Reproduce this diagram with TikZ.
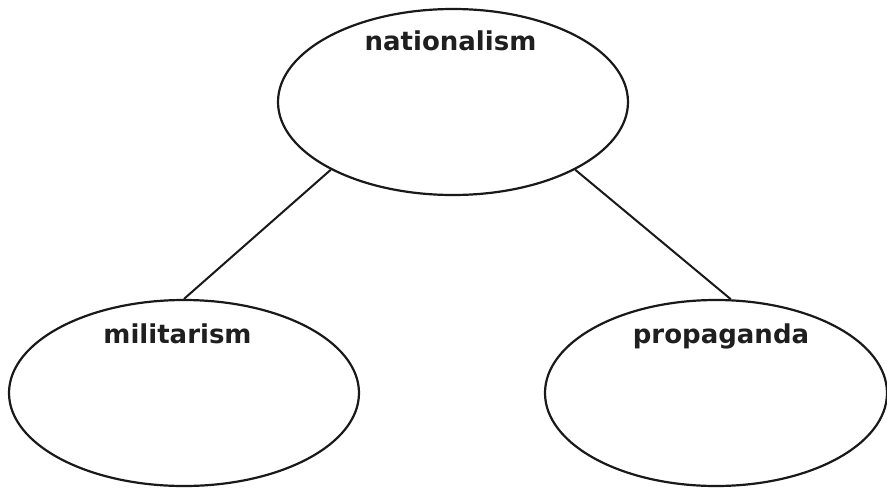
\documentclass[tikz,border=0pt]{standalone}
\usepackage{fontspec}
\setmainfont{DejaVu Sans}
\usetikzlibrary{shapes.geometric}
\begin{document}
\begin{tikzpicture}[x=1pt,y=-1pt,
  bubble/.style={draw=black!90, line width=2.2pt, ellipse, inner sep=0pt},
  topic/.style={font=\fontsize{26}{30}\selectfont\bfseries, text=black!88, anchor=base, inner sep=0pt},
  link/.style={draw=black!90, line width=2pt}]
\useasboundingbox (0,0) rectangle (887,488);
\node[bubble, minimum width=350pt, minimum height=186pt] (top) at (453,102) {};
\node[bubble, minimum width=350pt, minimum height=186pt] (left) at (184,393) {};
\node[bubble, minimum width=342pt, minimum height=186pt] (right) at (716,393) {};
\node[topic] (tnat) at (450.5,50) {nationalism};
\node[topic] (tmil) at (177.5,343) {militarism};
\node[topic] (tpro) at (721,343) {propaganda};
\draw[link] (top.209) -- (left.90.6);
\draw[link] (top.331) -- (right.81);
\end{tikzpicture}
\end{document}
